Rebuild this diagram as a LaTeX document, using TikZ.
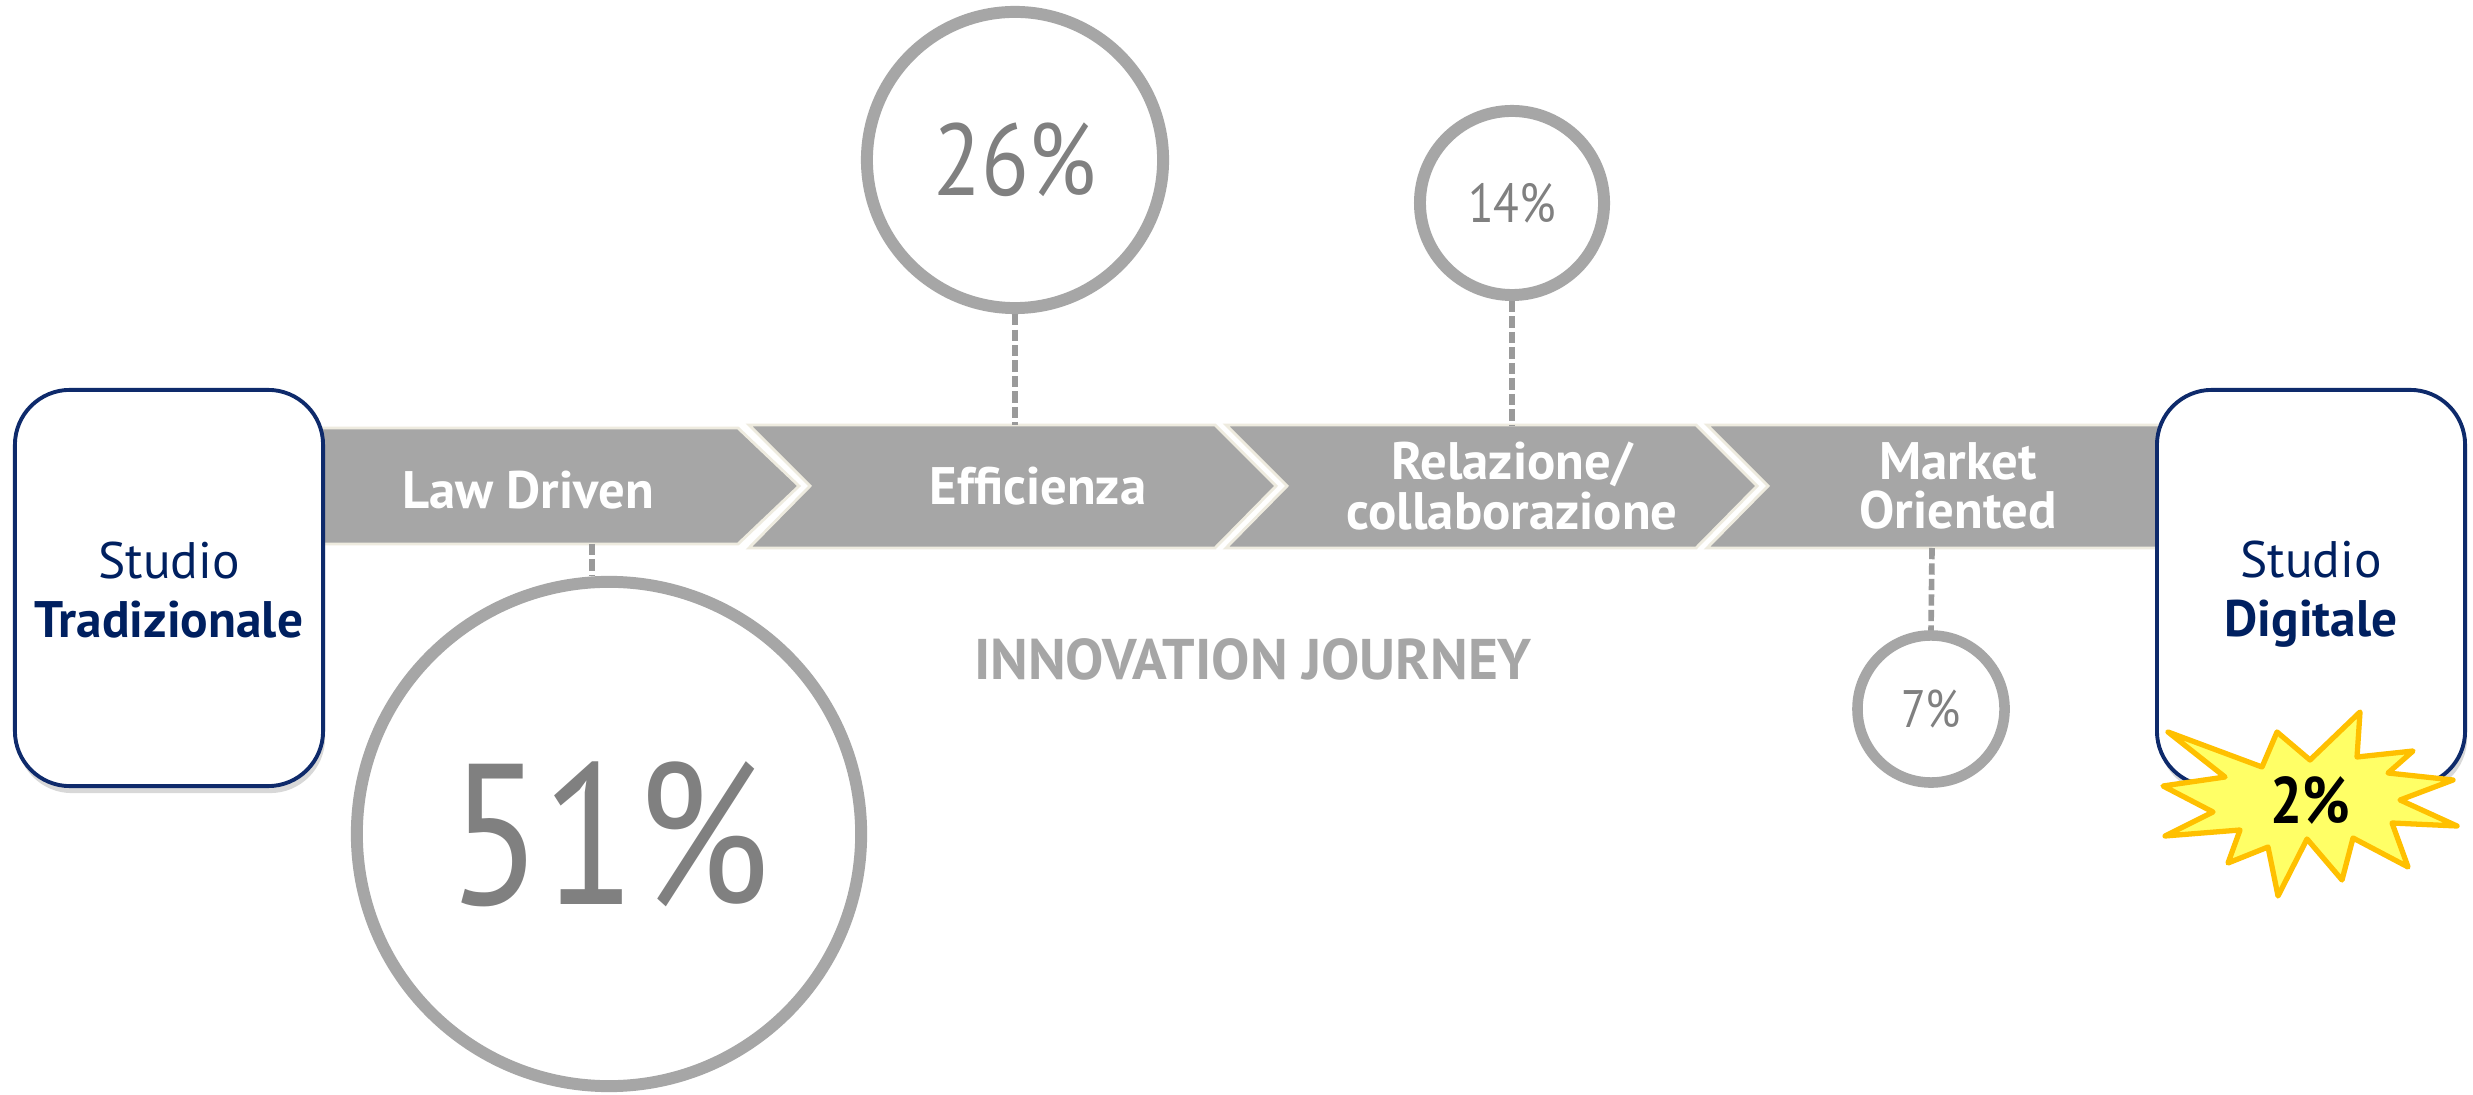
\documentclass[tikz,border=0pt]{standalone}
\usepackage{fontspec}
\setmainfont{PT Sans}
\newfontfamily\numfont{PT Sans}[FakeStretch=0.86]
\usetikzlibrary{shadows}
\definecolor{bandgray}{HTML}{A6A6A6}
\definecolor{ringgray}{HTML}{A6A6A6}
\definecolor{numgray}{HTML}{808080}
\definecolor{navy}{HTML}{002060}
\definecolor{boxline}{HTML}{0E2A6B}
\definecolor{cream}{HTML}{EEEBDF}
\definecolor{dashgray}{HTML}{9A9A9A}
\definecolor{starfill}{HTML}{FFFF66}
\definecolor{starline}{HTML}{FFC000}
\tikzset{
 stagebox/.style={draw=boxline, line width=1.1pt, fill=white, rounded corners=0.55cm,
   minimum width=3.08cm, minimum height=3.96cm, inner sep=0pt,
   drop shadow={opacity=0.3, shadow xshift=0.02cm, shadow yshift=-0.07cm}},
 boxtext/.style={text=navy, font=\fontsize{14.6}{16.8}\selectfont, align=center, inner sep=0pt},
 chev/.style={fill=bandgray, draw=cream, line width=0.8pt},
 chevtext/.style={text=white, font=\bfseries\fontsize{15}{14}\selectfont, align=center, inner sep=0pt},
 ring/.style={circle, draw=ringgray, line width=3.4pt, fill=white, inner sep=0pt, text=numgray,
   drop shadow={opacity=0.2, shadow xshift=0.02cm, shadow yshift=-0.05cm}},
 link/.style={draw=dashgray, line width=1.6pt, dash pattern=on 3.2pt off 1.2pt},
}
\begin{document}
\begin{tikzpicture}[x=0.01cm,y=-0.01cm]
\useasboundingbox[fill=white] (0,0) rectangle (2473,1095);

% chevron band
\path[chev] (250,428) -- (738,428) -- (799,486) -- (738,544) -- (250,544) -- cycle;
\path[chev] (749,425) -- (1215,425) -- (1276,486) -- (1215,548) -- (749,548) -- (810,486) -- cycle;
\path[chev] (1226,425) -- (1696,425) -- (1757,486) -- (1696,548) -- (1226,548) -- (1287,486) -- cycle;
\path[chev] (1707,425) -- (2220,425) -- (2220,548) -- (1707,548) -- (1768,486) -- cycle;

\node[chevtext] (t1) at (528,490) {Law Driven};
\node[chevtext] (t2) at (1038,486) {Efficienza};
\node[chevtext] (t3) at (1512,486) {Relazione/\\collaborazione};
\node[chevtext] (t4) at (1958,486) {Market\\Oriented};

% anchor points on the band
\coordinate (a1) at (592,544);
\coordinate (a2) at (1015,425);
\coordinate (a3) at (1512,425);
\coordinate (a4) at (1932,548);

% circles
\node[ring, minimum size=5.04cm, font=\numfont\fontsize{57}{60}\selectfont] (c51) at (609,834) {51\%};
\node[ring, minimum size=2.96cm, font=\numfont\fontsize{29}{32}\selectfont] (c26) at (1015,160) {26\%};
\node[ring, minimum size=1.84cm, font=\numfont\fontsize{15.6}{18}\selectfont] (c14) at (1512,203) {14\%};
\node[ring, minimum size=1.47cm, line width=3pt, font=\numfont\fontsize{15}{17}\selectfont] (c7) at (1931,709) {7\%};

% dashed connectors
\draw[link] (a1) -- (a1 |- c51.north);
\draw[link] (c26.south) -- (a2);
\draw[link] (c14.south) -- (a3);
\draw[link] (a4) -- (c7.north);

% title
\node[text=ringgray, font=\bfseries\fontsize{16.3}{18}\selectfont, inner sep=0pt] (ij) at (1253,659) {INNOVATION JOURNEY};

% side boxes
\node[stagebox] (bl) at (169,588) {};
\node[stagebox] (br) at (2311,588) {};
\node[boxtext] (tl) at (169,590) {Studio\\\textbf{Tradizionale}};
\node[boxtext] (tr) at (2311,594) {Studio\\\textbf{Digitale}};

% explosion
\draw[fill=starfill, draw=starline, line width=1.5pt, line join=round]
  (2360,712) -- (2357,757) -- (2413,751) -- (2388,773) -- (2453,780) -- (2400,800)
  -- (2457,826) -- (2392,823) -- (2408,867) -- (2353,838) -- (2342,880) -- (2307,839)
  -- (2278,896) -- (2268,847) -- (2228,863) -- (2240,830) -- (2165,836) -- (2213,812)
  -- (2163,786) -- (2225,777) -- (2168,732) -- (2262,767) -- (2277,732) -- (2310,760) -- cycle;
\node[font=\numfont\bfseries\fontsize{18.7}{20}\selectfont, inner sep=0pt] (s2) at (2310,800) {2\%};
\end{tikzpicture}
\end{document}
